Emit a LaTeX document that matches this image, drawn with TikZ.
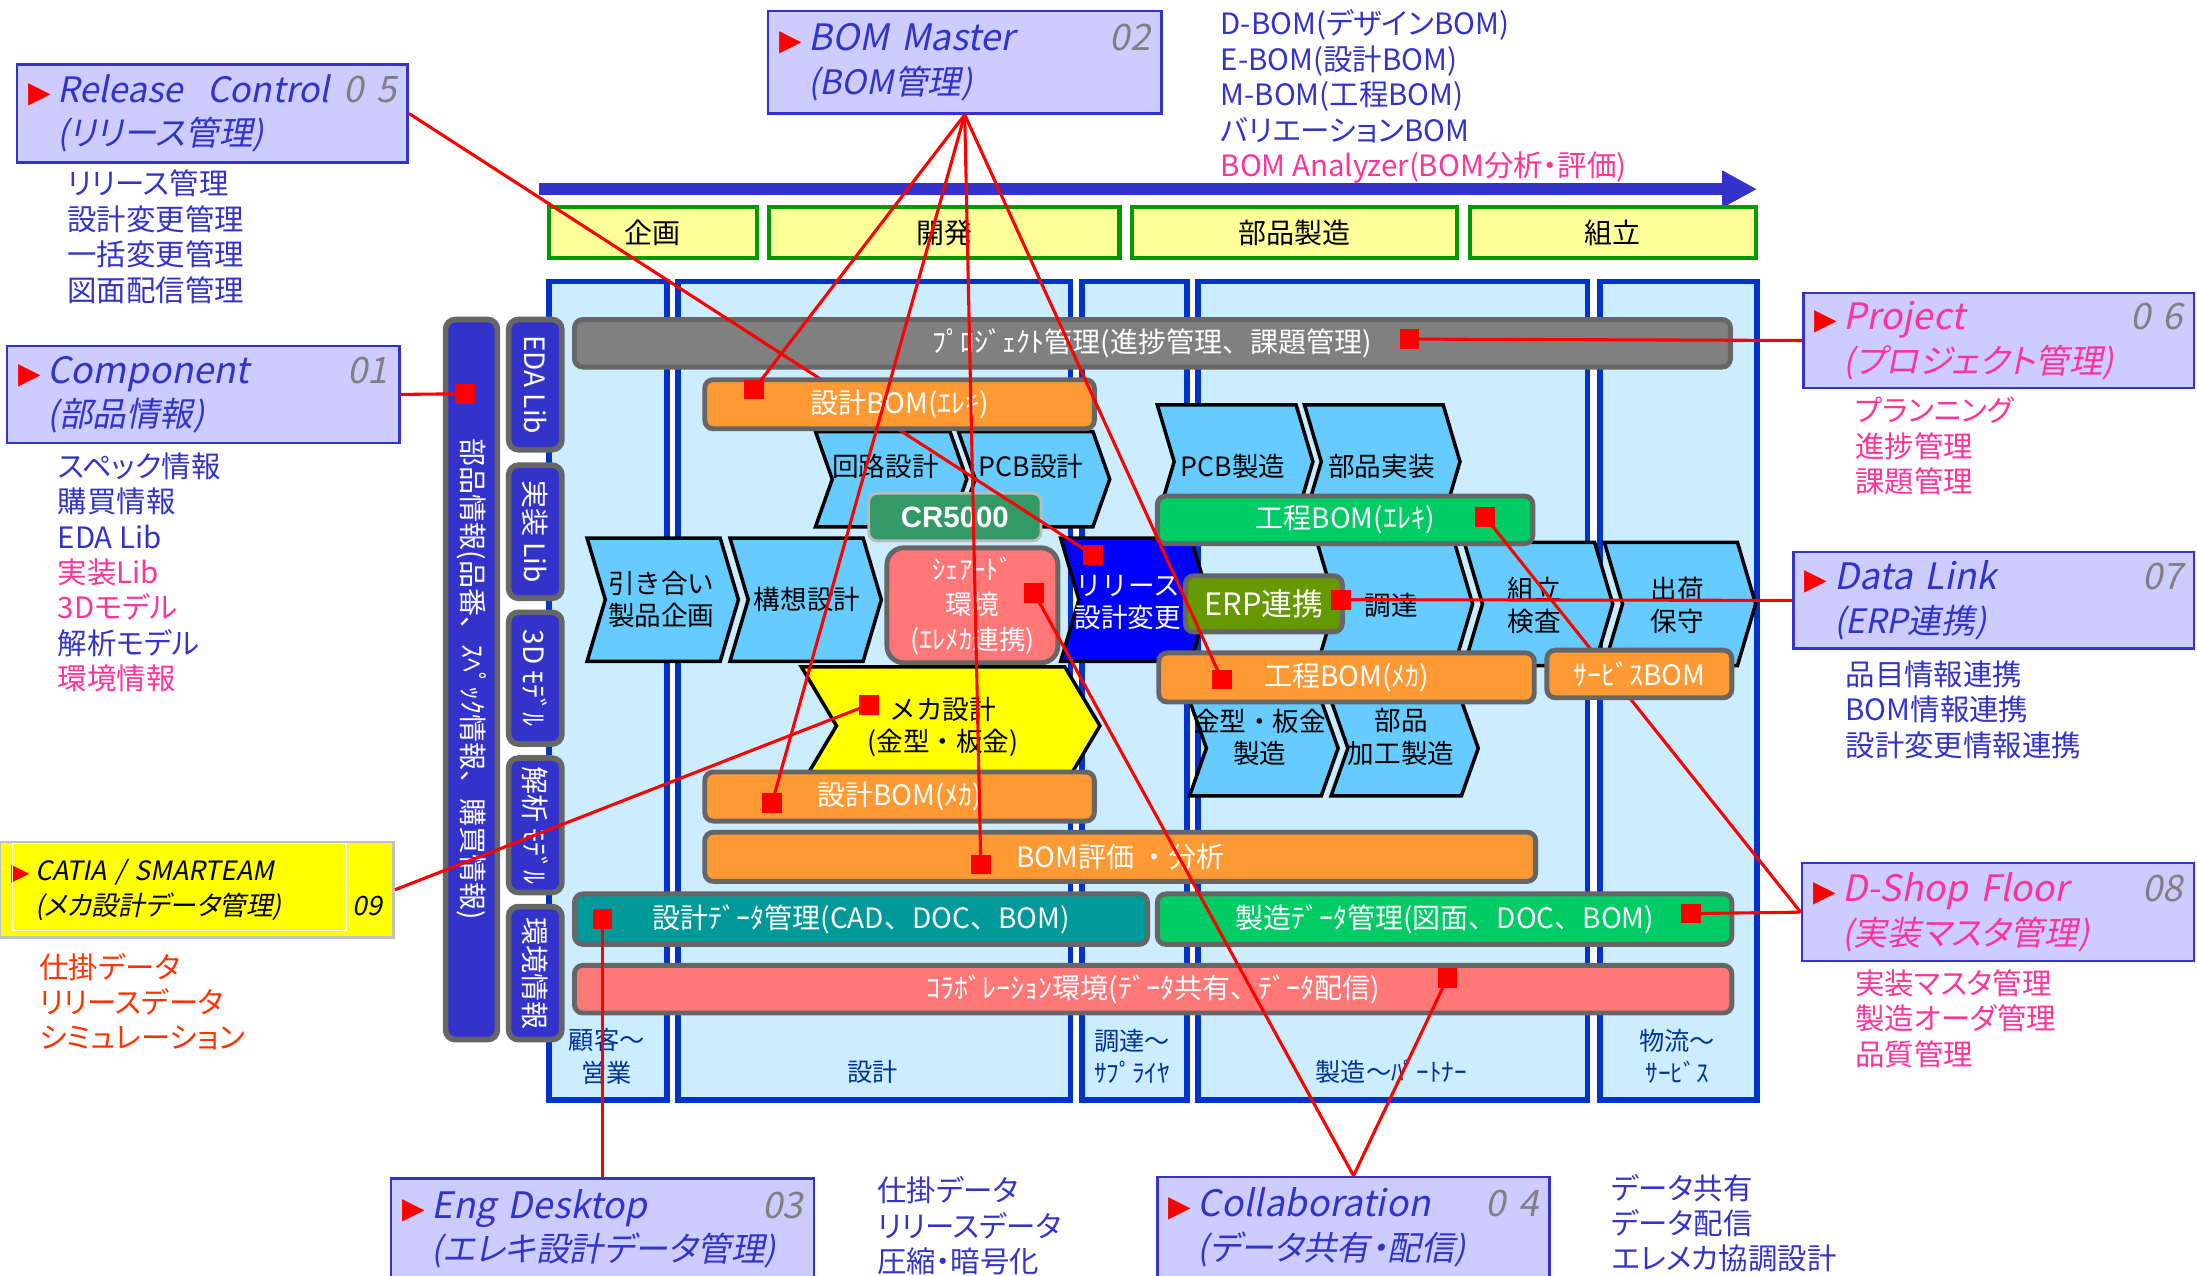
\documentclass[tikz,border=0pt]{standalone}
\usepackage{fontspec}
\setmainfont{Noto Sans CJK JP}
\newfontfamily\pfont{Noto Sans CJK JP}[RawFeature=+palt]
\newfontfamily\itfont{Noto Sans CJK JP}[FakeSlant=0.2, RawFeature=+palt]
\newfontfamily\symfont{DejaVu Sans}
\newfontfamily\crfont{Liberation Sans}
\usepackage{tikz}
\usetikzlibrary{arrows.meta}
\usepackage{xcolor}
\definecolor{cfill}{HTML}{CCCCFF}
\definecolor{cbord}{HTML}{3333CC}
\definecolor{tblue}{HTML}{3333CC}
\definecolor{tpink}{HTML}{FF3399}
\definecolor{tred}{HTML}{FF3300}
\definecolor{numgray}{HTML}{808080}
\definecolor{sgreen}{HTML}{009900}
\definecolor{syellow}{HTML}{FFFF99}
\definecolor{fblue}{HTML}{0033CC}
\definecolor{ffill}{HTML}{CCECFF}
\definecolor{lblue}{HTML}{003399}
\definecolor{bgray}{HTML}{666666}
\definecolor{pgray}{HTML}{808080}
\definecolor{chblue}{HTML}{66CCFF}
\definecolor{relblue}{HTML}{0000FF}
\definecolor{myellow}{HTML}{FFFF00}
\definecolor{crgreen}{HTML}{339966}
\definecolor{lgray}{HTML}{BBBBBB}
\definecolor{spink}{HTML}{FF7777}
\definecolor{mgreen}{HTML}{00CC66}
\definecolor{erpgreen}{HTML}{669900}
\definecolor{borange}{HTML}{FF9933}
\definecolor{dteal}{HTML}{009999}
\definecolor{catbord}{HTML}{C0C0C0}

\newcommand\tri{\makebox[21pt][l]{\symfont\fontsize{21}{21}\selectfont\color{red}▶}}
\newcommand\sub{\fontsize{24}{31}\selectfont}
% chevron: x0, x1, top, bottom, depth, fill
\newcommand\chev[6]{\draw[chev, fill=#6] (#1,#3) -- (#2,#3) -- ({#2+#5},{(#3+#4)/2}) -- (#2,#4) -- (#1,#4) -- ({#1+#5},{(#3+#4)/2}) -- cycle;}

\tikzset{
  callout/.style={draw=cbord, fill=cfill, line width=1.8, inner xsep=8, inner ysep=0, align=left,
    text=tblue, font=\itfont\fontsize{26}{31}\selectfont},
  list/.style={anchor=west, align=left, inner sep=0, text=tblue, font=\pfont\fontsize{21}{25.3}\selectfont},
  stage/.style={draw=sgreen, fill=syellow, line width=3, inner sep=0, font=\fontsize{20}{24}\selectfont},
  frame/.style={draw=fblue, fill=ffill, line width=4, inner sep=0},
  lbl/.style={inner sep=0, align=center, text=lblue, font=\fontsize{18}{23}\selectfont},
  vbar/.style={draw=bgray, fill=tblue, line width=4, rounded corners=7, rotate=-90, inner sep=0,
    text=white, font=\fontsize{20}{24}\selectfont},
  bar/.style={draw=bgray, line width=3.5, rounded corners=6, inner sep=0, text=white,
    font=\fontsize{20}{24}\selectfont},
  chev/.style={draw=black, line width=2.5},
  chevtxt/.style={inner sep=0, align=center, font=\fontsize{19}{23}\selectfont},
  sq/.style={fill=red, minimum size=14, inner sep=0},
  link/.style={draw=red, line width=2.2}
}

\begin{document}
\begin{tikzpicture}[x=1pt, y=-1pt]
\useasboundingbox (0,0) rectangle (1568,910);

% time line and phases
\coordinate (tl0) at (385,135);
\coordinate (tl1) at (1254,135);
\draw[tblue, line width=9, -{Triangle[length=25pt, width=25pt]}] (tl0) -- (tl1);
\node[stage, minimum width=148, minimum height=36] (ph1) at (466,166) {企画};
\node[stage, minimum width=250, minimum height=36] (ph2) at (674,166) {開発};
\node[stage, minimum width=232, minimum height=36] (ph3) at (924,166) {部品製造};
\node[stage, minimum width=204, minimum height=36] (ph4) at (1151,166) {組立};

% columns
\node[frame, minimum width=84, minimum height=584] (col1) at (434,493) {};
\node[frame, minimum width=280, minimum height=584] (col2) at (624,493) {};
\node[frame, minimum width=75, minimum height=584] (col3) at (809.5,493) {};
\node[frame, minimum width=278, minimum height=584] (col4) at (994,493) {};
\node[frame, minimum width=112, minimum height=584] (col5) at (1198,493) {};
\node[lbl] (lab1) at (433,754) {顧客～\\営業};
\node[lbl] (lab2) at (623,765) {設計};
\node[lbl] (lab3) at (808,754) {調達～\\ｻﾌﾟﾗｲﾔ};
\node[lbl] (lab4) at (993,765) {製造～ﾊﾟｰﾄﾅｰ};
\node[lbl] (lab5) at (1197,754) {物流～\\ｻｰﾋﾞｽ};

% libraries
\node[vbar, minimum width=514, minimum height=37] (pinfo) at (336.5,485) {部品情報(品番、ｽﾍﾟｯｸ情報、購買情報)};
\node[vbar, minimum width=93, minimum height=38] (libEda) at (382,274.5) {EDA Lib};
\node[vbar, minimum width=95, minimum height=38] (libPkg) at (382,379.5) {実装 Lib};
\node[vbar, minimum width=94, minimum height=38] (lib3d) at (382,484) {3D ﾓﾃﾞﾙ};
\node[vbar, minimum width=96, minimum height=38] (libCae) at (382,589) {解析 ﾓﾃﾞﾙ};
\node[vbar, minimum width=95, minimum height=38] (libEnv) at (382,694.5) {環境情報};

\node[bar, fill=pgray, minimum width=825, minimum height=34] (proj) at (822.5,245) {ﾌﾟﾛｼﾞｪｸﾄ管理(進捗管理、課題管理)};

% process steps
\chev{826}{925}{289}{370}{12}{chblue} \node[chevtxt] (pcbM) at (880,333) {PCB製造};
\chev{931}{1030}{289}{370}{12}{chblue} \node[chevtxt] (mount) at (986,333) {部品実装};
\chev{582}{678}{308}{376}{12}{chblue} \node[chevtxt] (circ) at (632,333) {回路設計};
\chev{684}{780}{308}{376}{12}{chblue} \node[chevtxt] (pcbD) at (736,333) {PCB設計};
\chev{419}{514}{384}{472}{13}{chblue} \node[chevtxt] (inq) at (472,428) {引き合い\\製品企画};
\chev{521}{616}{384}{472}{13}{chblue} \node[chevtxt] (idea) at (576,428) {構想設計};
\chev{757}{850}{384}{472}{13}{relblue} \node[chevtxt, text=white] (rev) at (805,430) {リリース\\設計変更};
\chev{940}{1038}{387}{475}{13}{chblue} \node[chevtxt] (buy) at (993,432) {調達};
\chev{1045}{1138}{387}{475}{13}{chblue} \node[chevtxt] (assy) at (1095,432) {組立\\検査};
\chev{1145}{1240}{387}{475}{13}{chblue} \node[chevtxt] (ship) at (1197,432) {出荷\\保守};
\chev{849}{943}{500}{568}{12}{chblue} \node[chevtxt] (mold) at (899,526) {金型・板金\\製造};
\chev{950}{1043}{500}{568}{12}{chblue} \node[chevtxt] (proc) at (1000,526) {部品\\加工製造};
\chev{572}{760}{476}{560}{25}{myellow} \node[chevtxt] (mech) at (673,519) {メカ設計\\(金型・板金)};

% data blocks
\node[bar, fill=crgreen, draw=lgray, line width=2, minimum width=123, minimum height=34,
  font=\crfont\bfseries\fontsize{21}{24}\selectfont] (cr) at (681.5,369) {CR5000};
\node[bar, fill=spink, rounded corners=12, minimum width=122, minimum height=82, align=center,
  font=\fontsize{19}{25}\selectfont] (share) at (694,432) {ｼｪｱｰﾄﾞ\\環境\\(ｴﾚﾒｶ連携)};
\node[bar, fill=mgreen, minimum width=268, minimum height=34] (ebom) at (960,371) {工程BOM(ｴﾚｷ)};
\node[bar, fill=erpgreen, minimum width=112, minimum height=40, font=\fontsize{22}{26}\selectfont] (erp) at (902,431) {ERP連携};
\node[bar, fill=borange, minimum width=268, minimum height=35] (mbomM) at (961,483.5) {工程BOM(ﾒｶ)};
\node[bar, fill=borange, minimum width=278, minimum height=35] (bomM) at (642,568.5) {設計BOM(ﾒｶ)};
\node[bar, fill=borange, minimum width=593, minimum height=35] (eval) at (799.5,611.5) {BOM評価 ・分析};
\node[bar, fill=dteal, minimum width=409, minimum height=36] (desData) at (614.5,656) {設計ﾃﾞｰﾀ管理(CAD、DOC、BOM)};
\node[bar, fill=mgreen, minimum width=410, minimum height=36] (mfgData) at (1031,656) {製造ﾃﾞｰﾀ管理(図面、DOC、BOM)};
\node[bar, fill=spink, minimum width=826, minimum height=34] (collab) at (823,706) {ｺﾗﾎﾞﾚｰｼｮﾝ環境(ﾃﾞｰﾀ共有、ﾃﾞｰﾀ配信)};

% callouts
\node[callout, minimum width=279, minimum height=70, text width=263] (rel) at (151.5,81)
  {\tri{\fontsize{25}{31}\selectfont Release\ \ Control}\hfill{\color{numgray}0 5}\\\hspace*{21pt}{\sub(リリース管理)}};
\node[list] (relL) at (48,169) {リリース管理\\設計変更管理\\一括変更管理\\図面配信管理};
\node[callout, minimum width=281, minimum height=73, text width=265] (bom) at (688.5,44.5)
  {\tri BOM Master\hfill{\color{numgray}02}\\\hspace*{21pt}{\sub(BOM管理)}};
\node[list] (bomL) at (871,69) {D-BOM(デザインBOM)\\E-BOM(設計BOM)\\M-BOM(工程BOM)\\バリエーションBOM\\{\color{tpink}BOM Analyzer(BOM分析・評価)}};
\node[callout, minimum width=280, minimum height=69, text width=264] (comp) at (145,281.5)
  {\tri Component\hfill{\color{numgray}01}\\\hspace*{21pt}{\sub(部品情報)}};
\node[list] (compL) at (41,408.5) {スペック情報\\購買情報\\EDA Lib\\{\color{tpink}実装Lib}\\{\color{tpink}3Dモデル}\\解析モデル\\{\color{tpink}環境情報}};
\node[callout, fill=myellow, draw=catbord, text=black, minimum width=281, minimum height=68, text width=265,
  font=\itfont\fontsize{19}{25}\selectfont] (cat) at (140.5,635)
  {\makebox[17pt][l]{\symfont\fontsize{17}{17}\selectfont\color{red}▶}CATIA / SMARTEAM\\\hspace*{17pt}(メカ設計データ管理)\hfill 09};
\node[draw=white, line width=1, minimum width=238, minimum height=62, inner sep=0] (catIn) at (128,633) {};
\node[list, text=tred] (catL) at (28,715) {仕掛データ\\リリースデータ\\シミュレーション};
\node[callout, minimum width=302, minimum height=72, text width=286] (eng) at (430,877)
  {\tri Eng Desktop\hfill{\color{numgray}03}\\\hspace*{21pt}{\sub(エレキ設計データ管理)}};
\node[list] (engL) at (626,875) {仕掛データ\\リリースデータ\\圧縮・暗号化};
\node[callout, minimum width=280, minimum height=72, text width=264] (coll) at (966,876)
  {\tri Collaboration\hfill{\color{numgray}0 4}\\\hspace*{21pt}{\sub(データ共有・配信)}};
\node[list] (collL) at (1150,873) {データ共有\\データ配信\\エレメカ協調設計};
\node[callout, text=tpink, minimum width=279, minimum height=68, text width=263] (prj) at (1426.5,243)
  {\tri Project\hfill{\color{numgray}0 6}\\\hspace*{21pt}{\sub(プロジェクト管理)}};
\node[list, text=tpink] (prjL) at (1324,318.5) {プランニング\\進捗管理\\課題管理};
\node[callout, minimum width=286, minimum height=69, text width=270] (dl) at (1423,428.5)
  {\tri Data Link\hfill{\color{numgray}07}\\\hspace*{21pt}{\sub(ERP連携)}};
\node[list] (dlL) at (1317,506.5) {品目情報連携\\BOM情報連携\\設計変更情報連携};
\node[callout, text=tpink, minimum width=280, minimum height=70, text width=264] (ds) at (1426,651)
  {\tri D-Shop Floor\hfill{\color{numgray}08}\\\hspace*{21pt}{\sub(実装マスタ管理)}};
\node[list, text=tpink] (dsL) at (1324,727) {実装マスタ管理\\製造オーダ管理\\品質管理};

% link points
\node[sq] (sqComp) at (332,281) {};
\node[sq] (sqProj) at (1006,242) {};
\node[sq] (sqRel) at (780,396) {};
\node[sq] (sqShare) at (738,423) {};
\node[sq] (sqEbom) at (1060,369) {};
\node[sq] (sqErp) at (957,428) {};
\node[sq] (sqMbom) at (872,485) {};
\node[sq] (sqMech) at (620,503) {};
\node[sq] (sqBomM) at (551,573) {};
\node[sq] (sqEval) at (700,617) {};
\node[sq] (sqDes) at (430,656) {};
\node[sq] (sqMfg) at (1207,652) {};
\node[sq] (sqCollab) at (1033,698) {};

% these two run under the BOM boxes
\draw[link] (rel.east) -- (sqRel.center);
\draw[link] (sqEbom.center) -- (ds.west);
\node[bar, fill=borange, minimum width=278, minimum height=35] (bomE) at (642,288.5) {設計BOM(ｴﾚｷ)};
\node[bar, fill=borange, minimum width=132, minimum height=34] (svc) at (1170,481) {ｻｰﾋﾞｽBOM};
\node[sq] (sqBomE) at (538,278) {};

\draw[link] (comp.east) -- (sqComp.center);
\draw[link] (bom.south) -- (sqBomE.center);
\draw[link] (bom.south) -- (sqBomM.center);
\draw[link] (bom.south) -- (sqEval.center);
\draw[link] (bom.south) -- (sqMbom.center);
\draw[link] (sqProj.center) -- (prj.west);
\draw[link] (sqErp.center) -- (dl.west);
\draw[link] (sqMfg.center) -- (ds.west);
\draw[link] (coll.north) -- (sqShare.center);
\draw[link] (coll.north) -- (sqCollab.center);
\draw[link] (sqDes.center) -- (eng.north);
\draw[link] (cat.east) -- (sqMech.center);
\end{tikzpicture}
\end{document}
